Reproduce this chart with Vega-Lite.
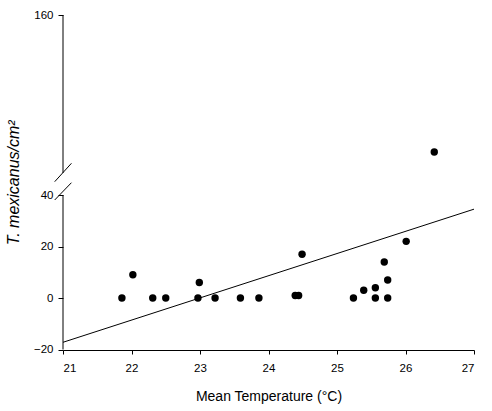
{
  "$schema": "https://vega.github.io/schema/vega-lite/v6.json",
  "width": 411,
  "height": 335,
  "autosize": {"type": "none"},
  "padding": {"left": 63, "top": 15, "right": 18, "bottom": 61},
  "background": "white",
  "config": {
    "view": {"stroke": null},
    "font": "Liberation Sans",
    "axis": {
      "grid": false,
      "tickColor": "black",
      "tickSize": 4,
      "labelColor": "black",
      "labelFontSize": 11.5,
      "titleColor": "black",
      "titleFontWeight": "normal",
      "domainColor": "black"
    }
  },
  "layer": [
    {
      "data": {
        "values": [
          {"temp": 21.86, "density": 0},
          {"temp": 22.02, "density": 9},
          {"temp": 22.31, "density": 0},
          {"temp": 22.5, "density": 0},
          {"temp": 22.97, "density": 0},
          {"temp": 22.99, "density": 6},
          {"temp": 23.22, "density": 0},
          {"temp": 23.59, "density": 0},
          {"temp": 23.86, "density": 0},
          {"temp": 24.39, "density": 1},
          {"temp": 24.44, "density": 1},
          {"temp": 24.49, "density": 17},
          {"temp": 25.24, "density": 0},
          {"temp": 25.39, "density": 3},
          {"temp": 25.56, "density": 0},
          {"temp": 25.56, "density": 4},
          {"temp": 25.69, "density": 14},
          {"temp": 25.74, "density": 0},
          {"temp": 25.74, "density": 7},
          {"temp": 26.01, "density": 22},
          {"temp": 26.42, "density": 147}
        ]
      },
      "mark": {"type": "circle", "size": 55, "color": "black", "opacity": 1},
      "encoding": {
        "x": {
          "field": "temp",
          "type": "quantitative",
          "scale": {"domain": [21, 27], "nice": false, "zero": false},
          "axis": {
            "values": [21, 22, 23, 24, 25, 26, 27],
            "format": "d",
            "labelPadding": 8,
            "title": "Mean Temperature (°C)",
            "titleFontSize": 14,
            "titlePadding": 16
          }
        },
        "y": {
          "field": "density",
          "type": "quantitative",
          "scale": {
            "domain": [-20, 40, 145, 160],
            "range": [334.5, 180, 158, 0],
            "nice": false,
            "zero": false
          },
          "axis": {
            "values": [-20, 0, 20, 40, 160],
            "format": "d",
            "domain": false,
            "tickSize": 5,
            "labelPadding": 5,
            "title": "T. mexicanus/cm²",
            "titleFontStyle": "italic",
            "titleFontSize": 16,
            "titlePadding": 12
          }
        }
      }
    },
    {
      "data": {"values": [{"x1": 21, "y1": -17.2, "x2": 27, "y2": 34.5}]},
      "mark": {"type": "rule", "color": "black", "strokeWidth": 1},
      "encoding": {
        "x": {"field": "x1", "type": "quantitative"},
        "y": {"field": "y1", "type": "quantitative"},
        "x2": {"field": "x2"},
        "y2": {"field": "y2"}
      }
    },
    {
      "data": {
        "values": [
          {"x": 21, "y1": -20, "y2": 40},
          {"x": 21, "y1": 145, "y2": 160}
        ]
      },
      "mark": {"type": "rule", "color": "black", "strokeWidth": 1},
      "encoding": {
        "x": {"field": "x", "type": "quantitative"},
        "y": {"field": "y1", "type": "quantitative"},
        "y2": {"field": "y2"}
      }
    },
    {
      "data": {
        "values": [
          {"x1": 20.879, "y1": 38.06, "x2": 21.123, "y2": 98.7},
          {"x1": 20.879, "y1": 103.5, "x2": 21.123, "y2": 145.92}
        ]
      },
      "mark": {"type": "rule", "color": "black", "strokeWidth": 1, "clip": false},
      "encoding": {
        "x": {"field": "x1", "type": "quantitative"},
        "y": {"field": "y1", "type": "quantitative"},
        "x2": {"field": "x2"},
        "y2": {"field": "y2"}
      }
    }
  ]
}
